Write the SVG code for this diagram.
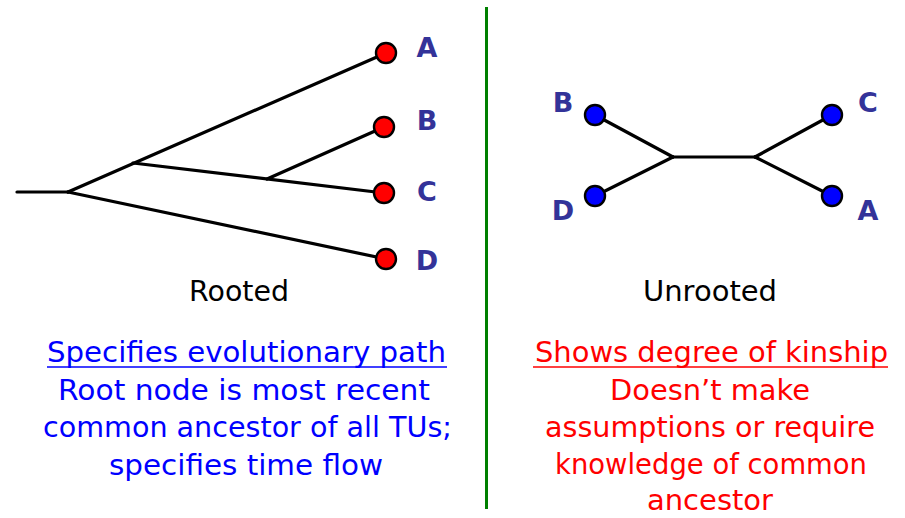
<svg xmlns="http://www.w3.org/2000/svg" width="905" height="518" viewBox="0 0 905 518">
<style>
.edge{stroke:#000;stroke-width:3.2;fill:none;stroke-linecap:round}
.rn{fill:#ff0000;stroke:#000;stroke-width:2.4}
.un{fill:#0000ff;stroke:#000;stroke-width:2.4}
.lbl{font-family:"DejaVu Sans","Liberation Sans",sans-serif;font-size:27px;font-weight:bold;fill:#333399;text-anchor:middle}
.cap{font-family:"DejaVu Sans","Liberation Sans",sans-serif;font-size:29px;fill:#000;text-anchor:start}
.bt{font-family:"DejaVu Sans","Liberation Sans",sans-serif;font-size:29px;fill:#0000ff;text-anchor:start}
.rt{font-family:"DejaVu Sans","Liberation Sans",sans-serif;font-size:29px;fill:#ff0000;text-anchor:start}
</style>
<rect width="905" height="518" fill="#fff"/>
<line x1="486.5" y1="7" x2="486.5" y2="509" stroke="#008000" stroke-width="3"/>
<g id="connectors">
  <line class="edge" x1="17" y1="192" x2="68" y2="192"/>
  <line class="edge" x1="68" y1="192" x2="386" y2="53"/>
  <line class="edge" x1="68" y1="192" x2="386" y2="259"/>
  <line class="edge" x1="133" y1="163" x2="384" y2="193"/>
  <line class="edge" x1="267" y1="179" x2="384" y2="127"/>
  <line class="edge" x1="595" y1="115" x2="673" y2="157"/>
  <line class="edge" x1="595" y1="196" x2="673" y2="157"/>
  <line class="edge" x1="673" y1="157" x2="755" y2="157"/>
  <line class="edge" x1="755" y1="157" x2="832" y2="115"/>
  <line class="edge" x1="755" y1="157" x2="832" y2="196"/>
</g>
<g id="rooted-A"><circle class="rn" cx="386" cy="53" r="10"/><text class="lbl" x="427" y="57">A</text></g>
<g id="rooted-B"><circle class="rn" cx="384" cy="127" r="10"/><text class="lbl" x="427" y="130">B</text></g>
<g id="rooted-C"><circle class="rn" cx="384" cy="193" r="10"/><text class="lbl" x="427" y="201">C</text></g>
<g id="rooted-D"><circle class="rn" cx="386" cy="259" r="10"/><text class="lbl" x="427" y="270">D</text></g>
<g id="unrooted-B"><circle class="un" cx="595" cy="115" r="10"/><text class="lbl" x="563" y="112">B</text></g>
<g id="unrooted-D"><circle class="un" cx="595" cy="196" r="10"/><text class="lbl" x="563" y="220">D</text></g>
<g id="unrooted-C"><circle class="un" cx="832" cy="115" r="10"/><text class="lbl" x="868" y="112">C</text></g>
<g id="unrooted-A"><circle class="un" cx="832" cy="196" r="10"/><text class="lbl" x="868" y="220">A</text></g>
<g id="rooted-caption"><text class="cap" x="189" y="301" textLength="100" lengthAdjust="spacingAndGlyphs">Rooted</text></g>
<g id="unrooted-caption"><text class="cap" x="643" y="301" textLength="134" lengthAdjust="spacingAndGlyphs">Unrooted</text></g>
<g id="rooted-text">
  <text class="bt" x="47" y="362" textLength="399" lengthAdjust="spacingAndGlyphs">Specifies evolutionary path</text>
  <line x1="47" y1="367" x2="447" y2="367" stroke="#0000ff" stroke-width="1.5"/>
  <text class="bt" x="58" y="400" textLength="372" lengthAdjust="spacingAndGlyphs">Root node is most recent</text>
  <text class="bt" x="43" y="437" textLength="409" lengthAdjust="spacingAndGlyphs">common ancestor of all TUs;</text>
  <text class="bt" x="109" y="475" textLength="274" lengthAdjust="spacingAndGlyphs">specifies time flow</text>
</g>
<g id="unrooted-text">
  <text class="rt" x="535" y="362" textLength="353" lengthAdjust="spacingAndGlyphs">Shows degree of kinship</text>
  <line x1="533" y1="367" x2="888" y2="367" stroke="#ff0000" stroke-width="1.5"/>
  <text class="rt" x="610" y="400" textLength="200" lengthAdjust="spacingAndGlyphs">Doesn’t make</text>
  <text class="rt" x="545" y="437" textLength="330" lengthAdjust="spacingAndGlyphs">assumptions or require</text>
  <text class="rt" x="555" y="474" textLength="312" lengthAdjust="spacingAndGlyphs">knowledge of common</text>
  <text class="rt" x="647" y="510" textLength="126" lengthAdjust="spacingAndGlyphs">ancestor</text>
</g>
</svg>
